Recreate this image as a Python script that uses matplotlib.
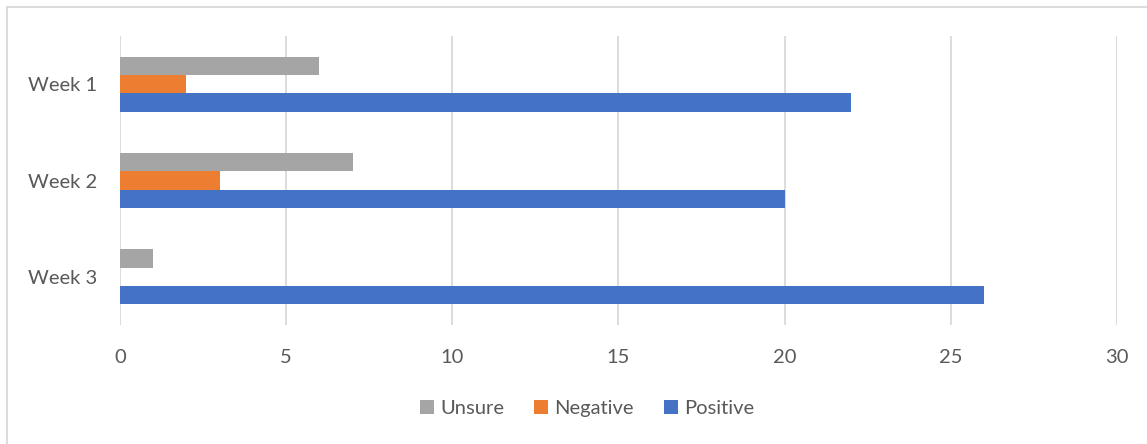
import matplotlib
matplotlib.use("Agg")
import matplotlib.pyplot as plt
from matplotlib.lines import Line2D
from matplotlib.patches import Patch
import numpy as np

weeks = ["Week 1", "Week 2", "Week 3"]
unsure = [6, 7, 1]
negative = [2, 3, 0]
positive = [22, 20, 26]

series_names = ["Unsure", "Negative", "Positive"]
series_colors = ["#a5a5a5", "#ed7d31", "#4472c4"]
x_ticks = [0, 5, 10, 15, 20, 25, 30]

plt.rcParams["font.family"] = ["Lato", "DejaVu Sans"]
text_color = "#595959"

fig = plt.figure(figsize=(11.47, 4.44), dpi=100)
ax = fig.add_axes([0.1046, 0.268, 0.8692, 0.6509])

y = np.arange(len(weeks))
h = 0.19
for vals, off, col in zip([unsure, negative, positive], [-h, 0, h], series_colors):
    ax.barh(y + off, vals, height=h, color=col, zorder=3)

ax.set_xlim(0, 30)
ax.set_ylim(2.5, -0.5)
ax.set_xticks(x_ticks)
ax.set_xticklabels([str(t) for t in x_ticks])
ax.set_yticks(y)
ax.set_yticklabels(weeks)
ax.tick_params(axis="both", length=0, labelsize=14.5, colors=text_color)
ax.tick_params(axis="x", pad=17)
ax.tick_params(axis="y", pad=16.5)
for lab in ax.get_yticklabels():
    lab.set_horizontalalignment("right")
ax.grid(axis="x", color="#d9d9d9", linewidth=1.3, zorder=0)
for s in ax.spines.values():
    s.set_visible(False)

handles = [Patch(facecolor=c, edgecolor="none") for c in series_colors]
fig.legend(handles, series_names, loc="center", bbox_to_anchor=(0.512, 0.079),
           ncol=3, frameon=False, fontsize=14.5, labelcolor=text_color,
           handlelength=0.7, handleheight=0.7, handletextpad=0.3, columnspacing=1.5)

# outer chart border (left and top edges)
fig.add_artist(Line2D([7/1147, 7/1147], [0, 1 - 7/444], transform=fig.transFigure,
                      color="#d9d9d9", linewidth=1.3))
fig.add_artist(Line2D([7/1147, 1], [1 - 7/444, 1 - 7/444], transform=fig.transFigure,
                      color="#d9d9d9", linewidth=1.3))

fig.savefig("out.png", dpi=100, facecolor="white")
